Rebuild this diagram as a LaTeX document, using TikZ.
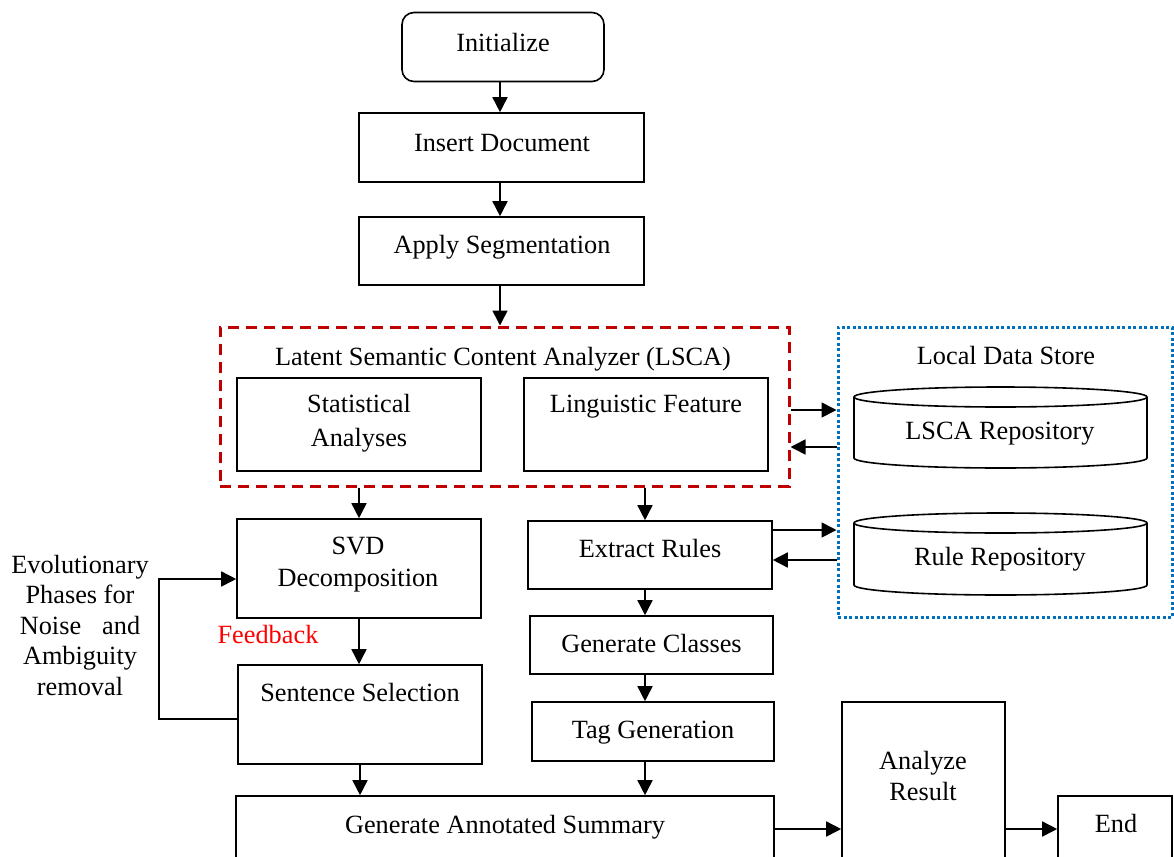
\documentclass[tikz,border=0pt]{standalone}
\usepackage{fontspec}
\setmainfont{Liberation Serif}
\usetikzlibrary{arrows.meta}
\definecolor{lscared}{RGB}{192,0,0}
\definecolor{storeblue}{RGB}{0,112,192}
\newcommand\dfont{\fontsize{26.3}{30.6}\selectfont}
\tikzset{
  box/.style={draw, line width=1.6pt, rectangle, inner sep=0pt},
  arr/.style={-{Triangle[length=15pt,width=15pt]}, line width=1.6pt},
  txt/.style={anchor=base, inner sep=0pt, font=\dfont},
  lscabox/.style={draw=lscared, line width=3pt, dash pattern=on 11pt off 7pt, rectangle, inner sep=0pt},
  storebox/.style={draw=storeblue, line width=3pt, dash pattern=on 3pt off 2.5pt, rectangle, inner sep=0pt},
  cyl/.style={line width=1.6pt}
}
\begin{document}
\begin{tikzpicture}[x=1pt,y=-1pt]
\useasboundingbox (0,0) rectangle (1174,856);
\fill[white] (0,0) rectangle (1174,856);
\begin{scope}
\clip (0,0) rectangle (1174,856);
% boxes
\node[box, rounded corners=12pt, minimum width=202pt, minimum height=69pt] (init) at (503,47) {};
\node[box, minimum width=285pt, minimum height=69pt] (insert) at (501.5,147.5) {};
\node[box, minimum width=285pt, minimum height=68pt] (apply) at (501.5,251) {};
\node[lscabox, minimum width=569pt, minimum height=159pt] (lsca) at (504.5,406.5) {};
\node[box, minimum width=244pt, minimum height=93pt] (stat) at (359,424.5) {};
\node[box, minimum width=244pt, minimum height=93pt] (ling) at (646,424.5) {};
\node[storebox, minimum width=334pt, minimum height=290pt] (store) at (1005,472) {};
\node[box, minimum width=244pt, minimum height=99pt] (svd) at (359,568.5) {};
\node[box, minimum width=244pt, minimum height=99pt] (ss) at (360,714.5) {};
\node[box, minimum width=244pt, minimum height=68pt] (er) at (650,555) {};
\node[box, minimum width=243pt, minimum height=58pt] (gc) at (651.5,645) {};
\node[box, minimum width=242pt, minimum height=59pt] (tg) at (653,731.5) {};
\node[box, minimum width=538pt, minimum height=84pt] (gas) at (505,838) {};
\node[box, minimum width=163pt, minimum height=178pt] (ar) at (923.5,791) {};
\node[box, minimum width=114pt, minimum height=84pt] (end) at (1115,838) {};
% cylinders
\draw[cyl] (854,397) -- (854,458) arc (180:0:146.5 and 10) -- (1147,397);
\draw[cyl] (1000.5,397) ellipse (146.5 and 10);
\draw[cyl] (854,523) -- (854,585) arc (180:0:146.5 and 10) -- (1147,523);
\draw[cyl] (1000.5,523) ellipse (146.5 and 10);
% texts
\node[txt] (t-init) at (503,52) {Initialize};
\node[txt] (t-insert) at (502,151) {Insert Document};
\node[txt] (t-apply) at (502,253) {Apply Segmentation};
\node[txt] (t-lsca) at (503,365) {Latent Semantic Content Analyzer (LSCA)};
\node[txt] (t-stat1) at (359,412) {Statistical};
\node[txt] (t-stat2) at (359,446) {Analyses};
\node[txt] (t-ling) at (646,412) {Linguistic Feature};
\node[txt] (t-store) at (1006,364) {Local Data Store};
\node[txt] (t-lrep) at (1000,439) {LSCA Repository};
\node[txt] (t-rrep) at (1000,565) {Rule Repository};
\node[txt] (t-svd1) at (358,554) {SVD};
\node[txt] (t-svd2) at (358,586) {Decomposition};
\node[txt, text=red] (t-fb) at (268,643) {Feedback};
\node[txt] (t-ss) at (360,701) {Sentence Selection};
\node[txt] (t-ev1) at (80,573) {Evolutionary};
\node[txt] (t-ev2) at (80,603.5) {Phases for};
\node[txt] (t-ev3) at (80,634) {Noise\hspace{21pt}and};
\node[txt] (t-ev4) at (80,664.5) {Ambiguity};
\node[txt] (t-ev5) at (80,695) {removal};
\node[txt] (t-er) at (650,557) {Extract Rules};
\node[txt] (t-gc) at (651.5,652) {Generate Classes};
\node[txt] (t-tg) at (653,738) {Tag Generation};
\node[txt] (t-gas) at (505,833) {Generate Annotated Summary};
\node[txt] (t-ar1) at (923,769) {Analyze};
\node[txt] (t-ar2) at (923,800) {Result};
\node[txt] (t-end) at (1116,832) {End};
% connectors
\draw[arr] (init.south -| 500,0) -- (insert.north -| 500,0);
\draw[arr] (insert.south -| 500,0) -- (apply.north -| 500,0);
\draw[arr] (apply.south -| 500,0) -- (lsca.north -| 500,0);
\draw[arr] (lsca.east |- 0,410) -- (store.west |- 0,410);
\draw[arr] (store.west |- 0,447) -- (lsca.east |- 0,447);
\draw[arr] (er.east |- 0,530) -- (store.west |- 0,530);
\draw[arr] (store.west |- 0,560) -- (er.east |- 0,560);
\draw[arr] (lsca.south -| stat.south) -- (svd.north);
\draw[arr] (lsca.south -| 645,0) -- (er.north -| 645,0);
\draw[arr] (svd.south) -- (svd.south |- ss.north);
\draw[arr] (er.south -| 645,0) -- (gc.north -| 645,0);
\draw[arr] (gc.south -| 645,0) -- (tg.north -| 645,0);
\draw[arr] (ss.south) -- (ss.south |- gas.north);
\draw[arr] (tg.south -| 645,0) -- (gas.north -| 645,0);
\draw[arr] (gas.east |- 0,829) -- (ar.west |- 0,829);
\draw[arr] (ar.east |- 0,829) -- (end.west |- 0,829);
\coordinate (fb) at (159,649);
\draw[arr] (ss.west |- 0,719) -| (fb) |- (svd.west |- 0,579);
\end{scope}
\end{tikzpicture}
\end{document}
